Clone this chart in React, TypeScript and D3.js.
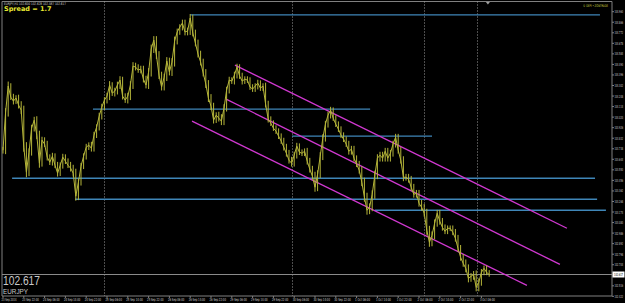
import React from "react";
import * as d3 from "d3";

// ---- data ----
const closes: number[] = [
  103.725, 104.065, 104.297, 104.198, 104.163, 104.19, 104.127, 104.082, 103.752, 103.529,
  103.707, 103.922, 103.993, 103.859, 103.609, 103.815, 103.779, 103.663, 103.618, 103.672,
  103.591, 103.52, 103.591, 103.663, 103.627, 103.591, 103.565, 103.52, 103.315, 103.44,
  103.582, 103.672, 103.752, 103.77, 103.743, 103.859, 103.931, 104.029, 104.109, 104.172,
  104.207, 104.306, 104.234, 104.252, 104.306, 104.35, 104.207, 104.172, 104.207, 104.306,
  104.475, 104.466, 104.44, 104.448, 104.359, 104.306, 104.422, 104.627, 104.707, 104.573,
  104.395, 104.288, 104.377, 104.52, 104.422, 104.511, 104.698, 104.779, 104.823, 104.859,
  104.779, 104.788, 104.904, 104.77, 104.681, 104.582, 104.511, 104.413, 104.315, 104.19,
  104.118, 103.993, 104.038, 104.011, 103.984, 104.1, 104.261, 104.35, 104.341, 104.395,
  104.466, 104.386, 104.341, 104.359, 104.35, 104.288, 104.27, 104.297, 104.323, 104.279,
  104.297, 104.136, 104.002, 103.966, 103.922, 103.895, 103.85, 103.806, 103.752, 103.698,
  103.636, 103.609, 103.681, 103.761, 103.707, 103.698, 103.716, 103.627, 103.556, 103.493,
  103.395, 103.511, 103.672, 103.832, 103.957, 104.038, 104.082, 104.011, 103.957, 103.913,
  103.859, 103.823, 103.779, 103.716, 103.734, 103.654, 103.6, 103.547, 103.44, 103.306,
  103.19, 103.216, 103.332, 103.502, 103.654, 103.681, 103.654, 103.716, 103.654, 103.698,
  103.779, 103.841, 103.725, 103.636, 103.484, 103.484, 103.466, 103.395, 103.332, 103.341,
  103.252, 103.216, 103.163, 103.011, 102.904, 102.966, 103.073, 103.163, 103.091, 103.038,
  103.002, 103.029, 103.029, 102.993, 102.94, 102.85, 102.77, 102.716, 102.672, 102.582,
  102.6, 102.618, 102.502, 102.547, 102.636, 102.672, 102.636, 102.617,
];

// bar range beyond open/close, in pips
const ranges: number[] = [
  6, 7, 8, 5, 6, 5, 6, 7, 8, 9,
  7, 6, 6, 7, 8, 6, 5, 6, 5, 6,
  5, 6, 5, 6, 5, 5, 6, 6, 8, 7,
  6, 5, 6, 5, 6, 6, 5, 6, 6, 5,
  6, 7, 5, 6, 6, 7, 6, 5, 6, 7,
  7, 6, 5, 6, 6, 6, 7, 8, 7, 7,
  7, 6, 6, 7, 6, 7, 8, 6, 5, 6,
  6, 6, 7, 6, 6, 6, 6, 6, 7, 7,
  7, 6, 5, 6, 7, 7, 6, 6, 5, 6,
  6, 5, 6, 5, 5, 5, 5, 5, 6, 5,
  5, 6, 6, 5, 5, 5, 5, 5, 6, 6,
  6, 6, 6, 6, 5, 5, 5, 6, 6, 6,
  8, 7, 7, 7, 6, 6, 6, 5, 5, 5,
  5, 5, 5, 6, 6, 6, 5, 6, 7, 8,
  8, 7, 7, 8, 7, 6, 6, 6, 6, 6,
  6, 6, 6, 6, 7, 6, 6, 6, 6, 6,
  6, 6, 6, 8, 8, 7, 7, 6, 6, 6,
  5, 5, 5, 5, 6, 6, 6, 6, 7, 7,
  6, 6, 7, 7, 6, 5, 5, 4,
];

const lastPrice = 102.617;
const priceTop = 104.96;

const priceTicks: number[] = [
  104.96, 104.866, 104.772, 104.678, 104.584, 104.49, 104.396, 104.302, 104.208, 104.114,
  104.02, 103.926, 103.832, 103.738, 103.644, 103.55, 103.456, 103.362, 103.268, 103.174,
  103.08, 102.986, 102.892, 102.798, 102.704, 102.516, 102.422,
];

const timeLabels: string[] = [
  "23 Sep 2014", "23 Sep 22:00", "24 Sep 06:00", "24 Sep 14:00", "24 Sep 22:00", "25 Sep 06:00",
  "25 Sep 14:00", "25 Sep 22:00", "26 Sep 06:00", "26 Sep 14:00", "26 Sep 22:00", "29 Sep 06:00",
  "29 Sep 14:00", "29 Sep 22:00", "30 Sep 06:00", "30 Sep 14:00", "30 Sep 22:00", "1 Oct 06:00",
  "1 Oct 14:00", "1 Oct 22:00", "2 Oct 06:00", "2 Oct 14:00", "2 Oct 22:00", "3 Oct 06:00",
];
const barsPerLabel = 8;

// horizontal levels
const levelStart: number[] = [72, 34.6, 111.2, 3.5, 27.7, 143];
const levelEnd: number[] = [229.6, 141.2, 165, 227.7, 228.5, 231.9];
const levelPrice: number[] = [104.931, 104.091, 103.85, 103.475, 103.288, 103.19];

// channel lines
const chanBar1: number[] = [89.2, 85.8, 72.7];
const chanPrice1: number[] = [104.484, 104.181, 103.984];
const chanBar2: number[] = [216.9, 214.2, 201.5];
const chanPrice2: number[] = [103.029, 102.707, 102.52];

const separatorBars: number[] = [38.8, 111.2, 161.9, 182.3];
const shiftMarkerBar = 186.5;

export default function App() {
  const W = 625;
  const H = 303;
  const plotL = 2;
  const plotR = 612;
  const plotT = 1.5;
  const plotB = 296;

  const x = d3.scaleLinear().domain([0, 1]).range([3, 5.6]);
  const y = d3.scaleLinear().domain([lastPrice, priceTop]).range([274.5, 11.7]);

  const line = d3
    .line<number>()
    .x((_, i) => x(i))
    .y((d) => y(d));

  const fontAxis = "'DejaVu Sans', sans-serif";
  const barColor = "#b6b63a";
  const mx = x(shiftMarkerBar);

  return (
    <svg
      width={W}
      height={H}
      style={{ position: "absolute", left: 0, top: 0, background: "#000" }}
      fontFamily={fontAxis}
    >
      <rect x={0} y={0} width={W} height={H} fill="#000" />
      {/* frame */}
      <line x1={plotL} x2={plotR} y1={plotT} y2={plotT} stroke="#808080" strokeWidth={1} />
      <line x1={plotL} x2={plotL} y1={plotT} y2={plotB} stroke="#808080" strokeWidth={1} />
      <line x1={plotR} x2={plotR} y1={plotT} y2={plotB} stroke="#808080" strokeWidth={1} />
      <line x1={plotL} x2={plotR} y1={plotB} y2={plotB} stroke="#808080" strokeWidth={1} />

      {/* separators */}
      {separatorBars.map((b, i) => (
        <line
          key={"s" + i}
          x1={Math.round(x(b)) + 0.5}
          x2={Math.round(x(b)) + 0.5}
          y1={plotT}
          y2={plotB}
          stroke="#9a9a9a"
          strokeWidth={1}
          strokeDasharray="1,2"
        />
      ))}
      {/* chart shift marker */}
      <path d={`M${mx - 2},${plotT + 0.5} L${mx + 2},${plotT + 0.5} L${mx},${plotT + 3} Z`} fill="#a0a0a0" />

      {/* current price line */}
      <line x1={plotL} x2={plotR} y1={y(lastPrice)} y2={y(lastPrice)} stroke="#8a8a8a" strokeWidth={1} />

      {/* levels */}
      {levelPrice.map((p, i) => (
        <line
          key={"l" + i}
          x1={x(levelStart[i])}
          x2={x(levelEnd[i])}
          y1={y(p)}
          y2={y(p)}
          stroke="#3f86b8"
          strokeWidth={1.3}
        />
      ))}

      {/* channel */}
      {chanBar1.map((b, i) => (
        <line
          key={"c" + i}
          x1={x(b)}
          y1={y(chanPrice1[i])}
          x2={x(chanBar2[i])}
          y2={y(chanPrice2[i])}
          stroke="#d038d0"
          strokeWidth={1.3}
        />
      ))}

      {/* price bars */}
      {closes.map((c, i) => {
        const o = i > 0 ? closes[i - 1] : c;
        const ext = (ranges[i] * 0.01) / 2;
        const hi = Math.max(o, c) + ext;
        const lo = Math.min(o, c) - ext;
        return (
          <line
            key={"b" + i}
            x1={x(i)}
            x2={x(i)}
            y1={y(hi)}
            y2={y(lo)}
            stroke={barColor}
            strokeWidth={1}
          />
        );
      })}
      <path d={line(closes) || ""} fill="none" stroke={barColor} strokeWidth={1} />

      {/* texts top-left */}
      <text x={4} y={5} fontSize={3.6} fill="#d0d0d0" textLength={62} lengthAdjust="spacingAndGlyphs">
        EURJPY,H1  102.600 102.628 102.587 102.617
      </text>
      <text x={4} y={11} fontSize={6.5} fontWeight="bold" fill="#e8e832">Spread = 1.7</text>
      <text x={608} y={7} fontSize={3.6} fill="#d8d840" textAnchor="end" textLength={25} lengthAdjust="spacingAndGlyphs">
        © DEPI • ZONTRADE
      </text>

      {/* big price */}
      <text x={3} y={284.5} fontSize={12.5} fill="#c8c8c8" fontFamily="'Liberation Sans', Arial, sans-serif" textLength={37} lengthAdjust="spacingAndGlyphs">
        102.617
      </text>
      <text x={3} y={294} fontSize={8} fill="#c8c8c8" fontFamily="'Liberation Sans', Arial, sans-serif" textLength={25} lengthAdjust="spacingAndGlyphs">
        EURJPY
      </text>

      {/* right axis */}
      {priceTicks.map((p, i) => (
        <g key={"t" + i}>
          <line x1={plotR} x2={plotR + 2} y1={y(p)} y2={y(p)} stroke="#808080" />
          <text x={614.5} y={y(p) + 1.5} fontSize={4} fill="#d0d0d0" textLength={8.5} lengthAdjust="spacingAndGlyphs">
            {p.toFixed(3)}
          </text>
        </g>
      ))}
      <rect x={612.5} y={y(lastPrice) - 3} width={12} height={6} fill="#ffffff" />
      <text x={614} y={y(lastPrice) + 1.5} fontSize={4} fill="#000" textLength={9} lengthAdjust="spacingAndGlyphs">
        {lastPrice.toFixed(3)}
      </text>

      {/* bottom axis */}
      {timeLabels.map((t, i) => (
        <g key={"bl" + i}>
          <line
            x1={x(i * barsPerLabel)}
            x2={x(i * barsPerLabel)}
            y1={plotB}
            y2={plotB + 2}
            stroke="#808080"
          />
          <text
            x={x(i * barsPerLabel) - 1.5}
            y={301}
            fontSize={4}
            fill="#d0d0d0"
            textLength={t.length > 11 ? 16.5 : 15}
            lengthAdjust="spacingAndGlyphs"
          >
            {t}
          </text>
        </g>
      ))}
    </svg>
  );
}
